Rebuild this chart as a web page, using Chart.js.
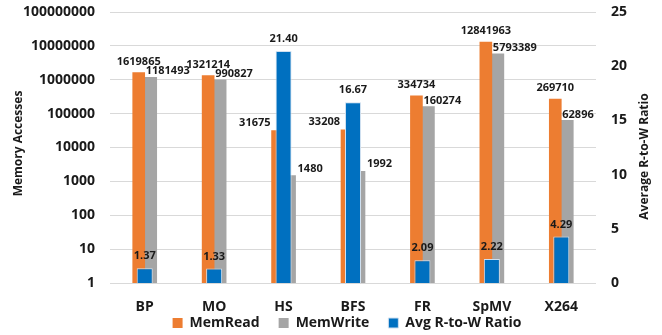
<!DOCTYPE html>
<html>
<head>
<meta charset="utf-8">
<script src="https://cdn.jsdelivr.net/npm/chart.js@4.4.0/dist/chart.umd.min.js"></script>
<style>
  html, body { margin: 0; padding: 0; background: #ffffff; }
  #wrap { width: 662px; height: 335px; position: relative; }
</style>
</head>
<body>
<div id="wrap"><canvas id="c"></canvas></div>
<script>
// Benchmarks and their measured memory traffic
const categories = ['BP', 'MO', 'HS', 'BFS', 'FR', 'SpMV', 'X264'];
const memRead = [1619865, 1321214, 31675, 33208, 334734, 12841963, 269710];
const memWrite = [1181493, 990827, 1480, 1992, 160274, 5793389, 62896];
const ratio = [1.37, 1.33, 21.40, 16.67, 2.09, 2.22, 4.29];

// Axis tick values
const leftTicks = [1, 10, 100, 1000, 10000, 100000, 1000000, 10000000, 100000000];
const rightTicks = [0, 5, 10, 15, 20, 25];

const FONT = "'Open Sans', 'DejaVu Sans', sans-serif";
const TEXT = '#1a1a1a';

// Value labels drawn above each bar
const valueLabels = {
  id: 'valueLabels',
  afterDatasetsDraw(chart) {
    const ctx = chart.ctx;
    const readMeta = chart.getDatasetMeta(0);
    const writeMeta = chart.getDatasetMeta(1);
    const ratioMeta = chart.getDatasetMeta(2);
    ctx.save();
    ctx.font = 'bold 11px ' + FONT;
    ctx.fillStyle = TEXT;
    ctx.textBaseline = 'middle';
    categories.forEach((_, i) => {
      const r = readMeta.data[i];
      const w = writeMeta.data[i];
      const b = ratioMeta.data[i];
      const covered = b.y < r.y;

      ctx.textAlign = 'center';
      ctx.fillText(ratio[i].toFixed(2), b.x, b.y - 12);

      if (covered) {
        ctx.textAlign = 'right';
        ctx.fillText(String(memRead[i]), r.x - r.width / 2 - 1, r.y - 8);
        ctx.textAlign = 'left';
        ctx.fillText(String(memWrite[i]), w.x + w.width / 2 + 2, w.y - 7);
      } else {
        ctx.textAlign = 'center';
        ctx.fillText(String(memRead[i]), r.x, r.y - 11);
        ctx.textAlign = 'left';
        ctx.fillText(String(memWrite[i]), w.x - w.width / 2 + 1, w.y - 6);
      }
    });
    ctx.restore();
  }
};

// Axis titles (both reading bottom to top); legend placed under the category labels
const axisTitles = {
  id: 'axisTitles',
  afterLayout(chart) {
    const lg = chart.legend;
    if (lg) {
      lg.top = chart.chartArea.bottom + 14;
      lg.bottom = chart.height;
      lg.height = lg.bottom - lg.top;
      lg.left += 16;
      lg.right += 16;
    }
  },
  afterDraw(chart) {
    const ctx = chart.ctx;
    const area = chart.chartArea;
    const mid = (area.top + area.bottom) / 2;
    const draw = (text, x, y) => {
      ctx.save();
      ctx.translate(x, y);
      ctx.rotate(-Math.PI / 2);
      ctx.fillText(text, 0, 0);
      ctx.restore();
    };
    ctx.save();
    ctx.font = 'bold 12px ' + FONT;
    ctx.fillStyle = TEXT;
    ctx.textAlign = 'center';
    ctx.textBaseline = 'middle';
    draw('Memory Accesses', 19, mid - 4);
    draw('Average R-to-W Ratio', 645, mid + 9);
    ctx.restore();
  }
};

// Vertical axes: fixed widths, no extra end padding
function fixVertical(width) {
  return (scale) => {
    scale.width = width;
    scale.paddingTop = 0;
    scale.paddingBottom = 0;
  };
}

new Chart(document.getElementById('c'), {
  type: 'bar',
  data: {
    labels: categories,
    datasets: [
      {
        label: 'MemRead',
        data: memRead,
        backgroundColor: '#ED7D31',
        yAxisID: 'y',
        barThickness: 12,
        order: 1
      },
      {
        label: 'MemWrite',
        data: memWrite,
        backgroundColor: '#A5A5A5',
        yAxisID: 'y',
        barThickness: 12,
        order: 2
      },
      {
        label: 'Avg R-to-W Ratio',
        data: ratio,
        backgroundColor: '#0070C0',
        borderColor: '#cfe0f0',
        borderWidth: 1,
        yAxisID: 'y1',
        grouped: false,
        maxBarThickness: 16,
        order: 0
      }
    ]
  },
  options: {
    responsive: true,
    maintainAspectRatio: false,
    animation: false,
    layout: { padding: { top: 12, bottom: 0, left: 0, right: 0 } },
    plugins: {
      tooltip: { enabled: false },
      legend: {
        position: 'bottom',
        maxHeight: 17,
        labels: {
          boxWidth: 10,
          boxHeight: 10,
          padding: 19,
          color: TEXT,
          font: { family: FONT, size: 14, weight: 'bold' },
          sort: (a, b) => a.datasetIndex - b.datasetIndex
        }
      }
    },
    scales: {
      x: {
        afterFit: (scale) => { scale.height = 35; },
        grid: { display: false, drawTicks: false },
        border: { display: false },
        ticks: {
          padding: 16,
          minRotation: 0,
          maxRotation: 0,
          autoSkip: false,
          color: TEXT,
          font: { family: FONT, size: 14, weight: 'bold' }
        }
      },
      y: {
        type: 'logarithmic',
        position: 'left',
        min: 1,
        max: 100000000,
        afterBuildTicks: (scale) => { scale.ticks = leftTicks.map(v => ({ value: v })); },
        afterFit: fixVertical(110),
        grid: { color: '#d9d9d9', drawTicks: false },
        border: { display: false },
        ticks: {
          padding: 15,
          color: TEXT,
          font: { family: FONT, size: 14, weight: 'bold' },
          callback: (v) => String(v)
        }
      },
      y1: {
        type: 'linear',
        position: 'right',
        min: 0,
        max: 25,
        afterBuildTicks: (scale) => { scale.ticks = rightTicks.map(v => ({ value: v })); },
        afterFit: fixVertical(66),
        grid: { display: false, drawTicks: false },
        border: { display: false },
        ticks: {
          padding: 15,
          color: TEXT,
          font: { family: FONT, size: 14, weight: 'bold' }
        }
      }
    }
  },
  plugins: [valueLabels, axisTitles]
});
</script>
</body>
</html>
